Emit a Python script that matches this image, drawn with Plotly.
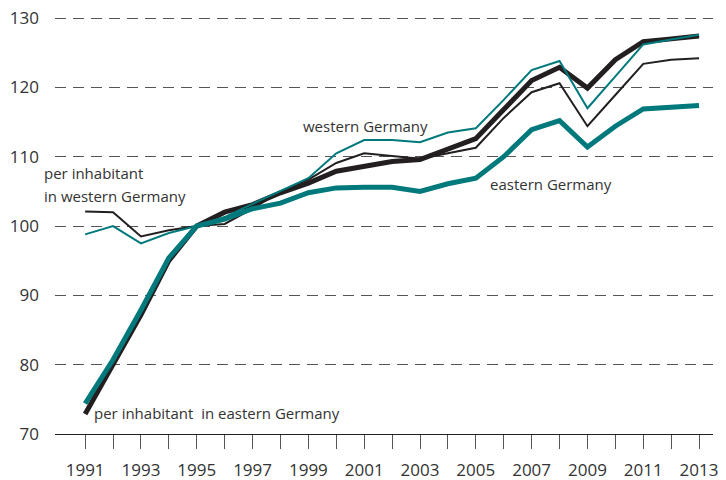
import plotly.graph_objects as go

# index values, 1995 = 100
years = list(range(1991, 2014))

west_per_inhabitant = [102.1, 102.0, 98.5, 99.4, 100.0, 100.3, 102.5, 105.0, 106.7, 109.1,
                       110.5, 110.1, 109.7, 110.5, 111.3, 115.6, 119.3, 120.6, 114.4, 118.9,
                       123.4, 124.0, 124.2]
west_total = [98.8, 100.0, 97.5, 99.0, 100.0, 101.3, 103.2, 105.0, 106.9, 110.5,
              112.4, 112.4, 112.1, 113.5, 114.1, 118.2, 122.5, 123.8, 117.0, 121.6,
              126.2, 126.9, 127.6]
east_per_inhabitant = [72.9, 80.0, 87.2, 95.0, 100.0, 102.0, 103.1, 104.8, 106.2, 107.9,
                       108.6, 109.3, 109.6, 111.1, 112.6, 116.8, 121.0, 122.9, 119.9, 124.0,
                       126.6, 127.0, 127.4]
east_total = [74.4, 80.7, 87.9, 95.4, 100.0, 101.0, 102.5, 103.3, 104.8, 105.5,
              105.6, 105.6, 105.0, 106.1, 106.9, 110.0, 113.9, 115.2, 111.4, 114.4,
              116.9, 117.1, 117.4]

year_labels = [str(y) if y % 2 == 1 else "" for y in years]
y_ticks = [70, 80, 90, 100, 110, 120, 130]

teal = "#00797c"
black = "#231f20"
txt = "#333333"
font = "Open Sans"
tick_size = 17
label_size = 15

fig = go.Figure()
fig.add_trace(go.Scatter(x=years, y=east_per_inhabitant, mode="lines",
                         line=dict(color=black, width=5)))
fig.add_trace(go.Scatter(x=years, y=west_per_inhabitant, mode="lines",
                         line=dict(color=black, width=2)))
fig.add_trace(go.Scatter(x=years, y=east_total, mode="lines",
                         line=dict(color=teal, width=5)))
fig.add_trace(go.Scatter(x=years, y=west_total, mode="lines",
                         line=dict(color=teal, width=2)))

# labels inside the plot (data coordinates)
labels = [
    ("western Germany", 2001.05, 114.5, "center"),
    ("eastern Germany", 2005.45, 106.1, "left"),
    ("per inhabitant&nbsp; in eastern Germany", 1991.25, 73.1, "left"),
]
for text, x, y, anchor in labels:
    fig.add_annotation(x=x, y=y, text=text, showarrow=False,
                       xanchor=anchor, yanchor="middle",
                       font=dict(family=font, size=label_size, color=txt))

# label that sits left of the first year, in paper x
for text, y in [("per inhabitant", 107.6), ("in western Germany", 104.3)]:
    fig.add_annotation(x=-0.019, xref="paper", y=y, text=text, showarrow=False,
                       xanchor="left", yanchor="middle",
                       font=dict(family=font, size=label_size, color=txt))

# page body has an 8px margin, so the figure is 8px smaller and margins shifted
fig.update_layout(
    width=718, height=472,
    margin=dict(l=47, r=13, t=8, b=46),
    paper_bgcolor="white", plot_bgcolor="white",
    showlegend=False,
    font=dict(family=font, size=tick_size, color=txt),
    xaxis=dict(range=[1989.92, 2013.5], tickvals=years, ticktext=year_labels,
               ticks="outside", ticklen=14, tickcolor="#555555", tickwidth=1,
               showgrid=False, zeroline=False, automargin=False,
               showline=True, linecolor=black, linewidth=1,
               ticklabelstandoff=7,
               tickfont=dict(family=font, size=tick_size, color=txt)),
    # top of range a touch above 130 so its grid line and label are kept
    yaxis=dict(range=[70, 130.3], tickvals=y_ticks, automargin=False,
               showgrid=True, gridcolor="#555555", gridwidth=1, griddash="11px,7px",
               zeroline=False, showline=False, ticks="",
               ticklabelstandoff=15, ticklabeloverflow="allow",
               tickfont=dict(family=font, size=tick_size, color=txt)),
)

fig.write_html("out.html")
